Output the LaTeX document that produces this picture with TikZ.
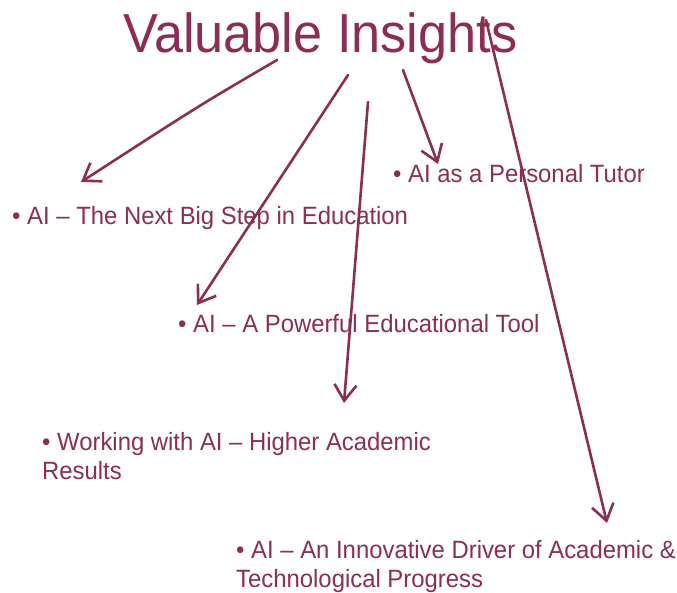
\documentclass[tikz,border=0pt]{standalone}
\usepackage{fontspec}
\setmainfont{Liberation Sans}
\usetikzlibrary{arrows.meta}
\definecolor{wine}{HTML}{8C2D55}
\begin{document}
\begin{tikzpicture}[x=1pt,y=-1pt,
  title/.style={anchor=base west,inner sep=0pt,text=wine,xscale=0.95,font=\fontsize{55}{62}\selectfont},
  item/.style={anchor=base west,inner sep=0pt,text=wine,align=left,xscale=0.955,font=\fontsize{25}{29}\selectfont},
  arr/.style={draw=wine,line width=2.6pt,line cap=round,-{Straight Barb[length=16pt,width=22pt,line width=2.6pt]}}]
\useasboundingbox (0,0) rectangle (677,593);
\node[title] (t) at (123,53) {Valuable Insights};
\node[item] (n1) at (12,225) {• AI – The Next Big Step in Education};
\node[item] (n2) at (393,183) {• AI as a Personal Tutor};
\node[item] (n3) at (178,333) {• AI – A Powerful Educational Tool};
\node[item] (n4) at (42,479) {• Working with AI – Higher Academic\\Results};
\node[item] (n5) at (236,587) {• AI – An Innovative Driver of Academic \&\\Technological Progress};
\coordinate (s1) at (277,60);  \coordinate (e1) at (81,182);
\coordinate (s2) at (348,75);  \coordinate (e2) at (197,305);
\coordinate (s3) at (368,102); \coordinate (e3) at (344,403);
\coordinate (s4) at (403,70);  \coordinate (e4) at (438,164);
\coordinate (s5) at (486,20);  \coordinate (e5) at (607,523);
\draw[arr] (s1) .. controls (200,105) .. (e1);
\draw[arr] (s2) -- (e2);
\draw[arr] (s3) -- (e3);
\draw[arr] (s4) -- (e4);
\draw[arr] (s5) -- (e5);
\end{tikzpicture}
\end{document}
